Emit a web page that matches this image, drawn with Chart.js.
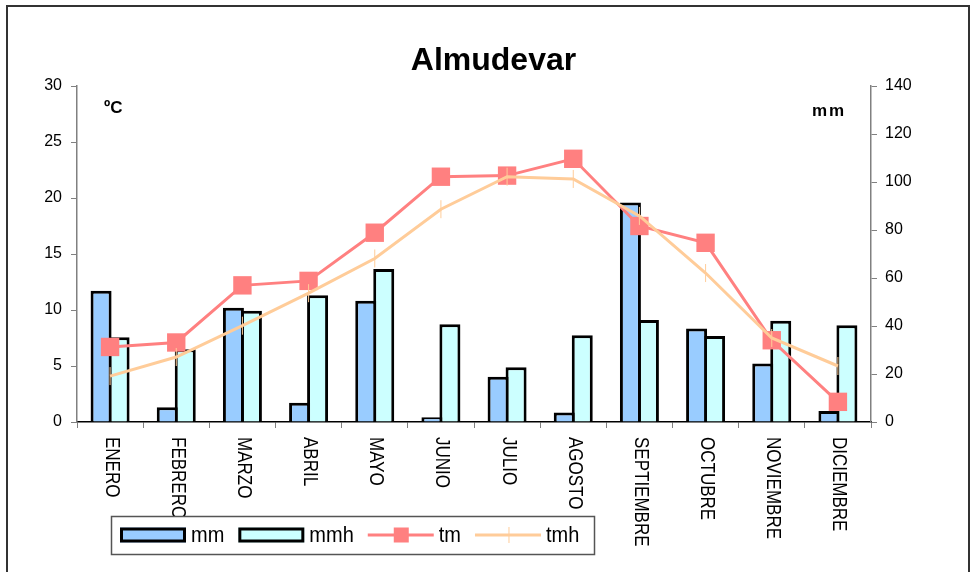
<!DOCTYPE html>
<html>
<head>
<meta charset="utf-8">
<title>Almudevar</title>
<script src="https://cdn.jsdelivr.net/npm/chart.js@4/dist/chart.umd.min.js"></script>
<style>
  html, body { margin: 0; padding: 0; background: #fff; }
  #wrap { position: relative; width: 970px; height: 572px; overflow: hidden; }
  #marco { position: absolute; left: 6px; top: 5px; width: 960px; height: 600px; border: 2px solid #333; pointer-events: none; }
</style>
</head>
<body>
<div id="wrap">
  <canvas id="myChart" width="970" height="572"></canvas>
  <div id="marco"></div>
</div>
<script>
// datos
const meses = ['ENERO', 'FEBRERO', 'MARZO', 'ABRIL', 'MAYO', 'JUNIO', 'JULIO', 'AGOSTO', 'SEPTIEMBRE', 'OCTUBRE', 'NOVIEMBRE', 'DICIEMBRE']
const mm = [54.7, 6.1, 47.6, 8.0, 50.5, 2.0, 18.9, 4.0, 91.5, 39.0, 24.4, 4.6]
const mmh = [35.3, 30.3, 46.4, 52.8, 63.8, 40.7, 22.8, 36.1, 42.5, 35.8, 42.2, 40.3]
const tm = [6.7, 7.1, 12.2, 12.6, 16.9, 21.9, 22.0, 23.5, 17.5, 16.0, 7.3, 1.8]
const tmh = [4.1, 5.8, 8.6, 11.5, 14.6, 19.0, 21.9, 21.7, 18.4, 13.3, 7.5, 5.0]

const titulo = 'Almudevar'
const unidadTemp = 'ºC'
const unidadLluvia = 'mm'

const FUENTE = "'Liberation Sans', Arial, sans-serif"
Chart.defaults.font.family = FUENTE
Chart.defaults.color = '#000'

// texto estirado en vertical, como lo deja Excel
const textoEstirado = (ctx, text, x, y, sy) => {
  ctx.save()
  ctx.translate(x, y)
  ctx.scale(1, sy)
  ctx.fillText(text, 0, 0)
  ctx.restore()
}

const etiquetas = {
  id: 'etiquetas',
  afterDraw(chart) {
    const ctx = chart.ctx
    const xs = chart.scales.x
    const area = chart.chartArea

    ctx.save()
    ctx.fillStyle = '#000'

    // meses girados hacia abajo
    ctx.font = '17px ' + FUENTE
    ctx.textAlign = 'left'
    ctx.textBaseline = 'middle'
    meses.forEach((m, i) => {
      ctx.save()
      ctx.translate(xs.getPixelForValue(i) + 1, area.bottom + 15)
      ctx.rotate(Math.PI / 2)
      ctx.scale(1, 1.18)
      ctx.fillText(m, 0, 0)
      ctx.restore()
    })

    // unidades
    ctx.textBaseline = 'alphabetic'
    ctx.font = 'bold 17px ' + FUENTE
    ctx.fillText(unidadTemp, area.left + 27, area.top + 27)
    ctx.letterSpacing = '2px'
    ctx.fillText(unidadLluvia, area.right - 59, area.top + 30)
    ctx.letterSpacing = '0px'

    // leyenda
    const box = { x: 111.5, y: 516.5, w: 483, h: 38 }
    ctx.fillStyle = '#fff'
    ctx.fillRect(box.x, box.y, box.w, box.h)
    ctx.strokeStyle = '#555'
    ctx.lineWidth = 1.5
    ctx.strokeRect(box.x, box.y, box.w, box.h)

    const cy = 535
    let x = 120
    ctx.font = '20px ' + FUENTE
    ctx.textBaseline = 'middle'
    chart.data.datasets.forEach((ds) => {
      if (ds.type === 'line') {
        ctx.strokeStyle = ds.borderColor
        ctx.lineWidth = 3
        ctx.beginPath()
        ctx.moveTo(x, cy)
        ctx.lineTo(x + 66, cy)
        ctx.stroke()
        if (ds.pointStyle === 'rect') {
          ctx.fillStyle = ds.pointBackgroundColor
          ctx.fillRect(x + 26, cy - 7.5, 15, 15)
        } else {
          ctx.lineWidth = 1
          ctx.beginPath()
          ctx.moveTo(x + 34, cy - 8)
          ctx.lineTo(x + 34, cy + 8)
          ctx.stroke()
        }
      } else {
        ctx.fillStyle = ds.backgroundColor
        ctx.fillRect(x, cy - 7.5, 66, 15)
        ctx.strokeStyle = '#000'
        ctx.lineWidth = 3
        ctx.strokeRect(x + 1.5, cy - 6, 63, 12)
      }
      x += 71
      ctx.fillStyle = '#000'
      textoEstirado(ctx, ds.label, x, cy + 1, 1.12)
      x += ctx.measureText(ds.label).width + 14
    })
    ctx.restore()
  }
}

const config = {
  type: 'bar',
  data: {
    labels: meses,
    datasets: [
      {
        label: 'mm',
        data: mm,
        yAxisID: 'y1',
        order: 2,
        backgroundColor: '#99CCFF',
        borderColor: '#000',
        borderWidth: 3,
        categoryPercentage: 0.544,
        barPercentage: 1.167,
      },
      {
        label: 'mmh',
        data: mmh,
        yAxisID: 'y1',
        order: 3,
        backgroundColor: '#CCFFFF',
        borderColor: '#000',
        borderWidth: 3,
        categoryPercentage: 0.544,
        barPercentage: 1.167,
      },
      {
        type: 'line',
        label: 'tm',
        data: tm,
        yAxisID: 'y',
        order: 1,
        borderColor: '#FF8080',
        borderWidth: 3,
        tension: 0,
        pointStyle: 'rect',
        pointRadius: 13,
        pointBackgroundColor: '#FF8080',
        pointBorderWidth: 0,
      },
      {
        type: 'line',
        label: 'tmh',
        data: tmh,
        yAxisID: 'y',
        order: 0,
        borderColor: '#FFCC99',
        borderWidth: 3,
        tension: 0,
        pointStyle: 'line',
        pointRotation: 90,
        pointRadius: 9,
        pointBorderColor: '#FFCC99',
        pointBorderWidth: 1,
      },
    ],
  },
  options: {
    responsive: false,
    animation: false,
    events: [],
    layout: { padding: { top: 17.6, left: 17, right: 0, bottom: 0 } },
    plugins: {
      legend: { display: false },
      tooltip: { enabled: false },
      title: {
        display: true,
        text: titulo,
        color: '#000',
        font: { size: 32, weight: 'bold' },
        padding: { top: 24, bottom: 6 },
      },
    },
    scales: {
      x: {
        offset: true,
        grid: { drawOnChartArea: false, drawTicks: true, tickLength: 6, offset: true, color: '#808080' },
        border: { color: '#000', width: 1.5 },
        ticks: { display: false },
        afterFit: (s) => { s.height = 150 },
      },
      y: {
        position: 'left',
        min: 0,
        max: 30,
        ticks: { stepSize: 5, padding: 9, font: { size: 16 }, color: '#000' },
        grid: { drawOnChartArea: false, tickLength: 6, color: '#808080' },
        border: { color: '#808080', width: 1.5 },
        afterFit: (s) => { s.width = 60 },
      },
      y1: {
        position: 'right',
        min: 0,
        max: 140,
        ticks: { stepSize: 20, padding: 8, font: { size: 16 }, color: '#000' },
        grid: { drawOnChartArea: false, tickLength: 6, color: '#808080' },
        border: { color: '#808080', width: 1.5 },
        afterFit: (s) => { s.width = 99 },
      },
    },
  },
  plugins: [etiquetas],
}

var myChart = new Chart(document.getElementById('myChart'), config)
</script>
</body>
</html>
